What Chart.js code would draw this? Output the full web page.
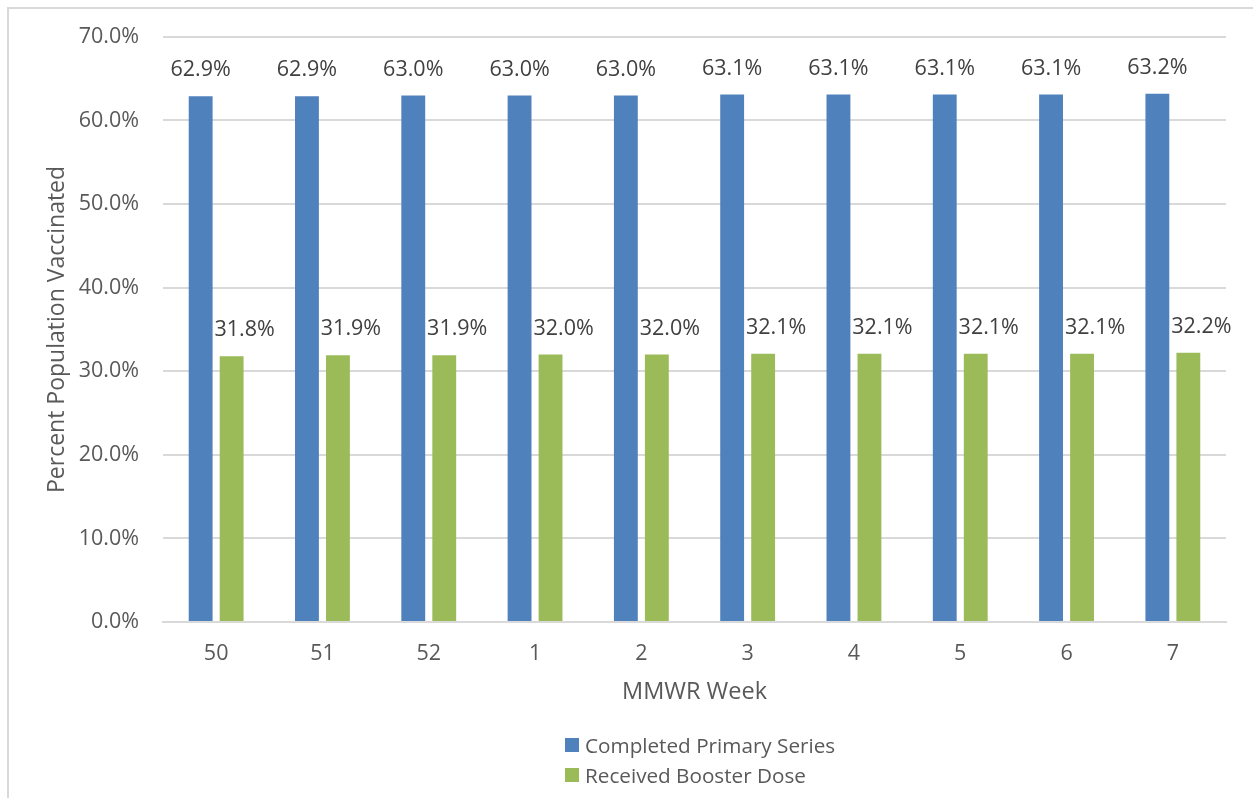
<!DOCTYPE html>
<html>
<head>
<meta charset="utf-8">
<script src="https://cdn.jsdelivr.net/npm/chart.js@4.4.1/dist/chart.umd.min.js"></script>
<style>
  html, body { margin: 0; padding: 0; background: #fff; }
  body { width: 1253px; height: 798px; position: relative; overflow: hidden; }
  .frame { position: absolute; left: 7px; top: 7px; width: 1300px; height: 900px;
           border-left: 2px solid #d9d9d9; border-top: 2px solid #d9d9d9; box-sizing: border-box; }
  .wrap { position: absolute; left: 0; top: 0; width: 1253px; height: 798px; }
  #legend { position: absolute; left: 565px; top: 730px; font-family: "Open Sans", sans-serif;
            font-size: 20.7px; color: #595959; }
  #legend div { display: flex; align-items: center; height: 30px; }
  #legend span.box { width: 14px; height: 14px; margin-right: 6px; display: inline-block; }
</style>
</head>
<body>
<div class="frame"></div>
<div class="wrap"><canvas id="c" width="1253" height="798"></canvas></div>
<div id="legend"></div>
<script>
// MMWR weeks and vaccination %
const weeks = ["50", "51", "52", "1", "2", "3", "4", "5", "6", "7"];
const primarySeries = [62.9, 62.9, 63.0, 63.0, 63.0, 63.1, 63.1, 63.1, 63.1, 63.2];
const boosterDose = [31.8, 31.9, 31.9, 32.0, 32.0, 32.1, 32.1, 32.1, 32.1, 32.2];
const seriesNames = ["Completed Primary Series", "Received Booster Dose"];
const seriesColors = ["#4f81bd", "#9bbb59"];

const FONT = "'Open Sans', sans-serif";
const TXT = "#595959";

// label di atas bar
const barLabelPlugin = {
  id: "barLabels",
  afterDatasetsDraw(chart) {
    const ctx = chart.ctx;
    ctx.save();
    ctx.font = "21.5px " + FONT;
    ctx.fillStyle = "#404040";
    ctx.textAlign = "center";
    ctx.textBaseline = "middle";
    chart.data.datasets.forEach((ds, di) => {
      const meta = chart.getDatasetMeta(di);
      const shift = di === 1 ? 13 : 0;
      meta.data.forEach((bar, i) => {
        ctx.fillText(ds.data[i].toFixed(1) + "%", bar.x + shift, bar.y - 26);
      });
    });
    ctx.restore();
  }
};

const chart = new Chart(document.getElementById("c"), {
  type: "bar",
  data: {
    labels: weeks,
    datasets: [
      { label: seriesNames[0], data: primarySeries, backgroundColor: seriesColors[0] },
      { label: seriesNames[1], data: boosterDose, backgroundColor: seriesColors[1] }
    ]
  },
  options: {
    responsive: false,
    animation: false,
    categoryPercentage: 0.583,
    barPercentage: 0.77,
    layout: { padding: { left: 0, top: 36, right: 27, bottom: 92 } },
    plugins: {
      legend: { display: false },
      tooltip: { enabled: false }
    },
    scales: {
      y: {
        min: 0, max: 70,
        ticks: {
          stepSize: 10, padding: 24, color: TXT,
          font: { family: FONT, size: 21.5 },
          callback: v => v.toFixed(1) + "%"
        },
        grid: { color: "#d9d9d9", lineWidth: 2, drawTicks: false },
        border: { display: false },
        title: {
          display: true, text: "Percent Population Vaccinated", color: TXT,
          font: { family: FONT, size: 23 }, padding: { top: 44, bottom: 0 }
        },
        afterFit: s => { s.width = 163; }
      },
      x: {
        ticks: { padding: 19, color: TXT, font: { family: FONT, size: 21.5 } },
        grid: { display: false, drawTicks: false },
        border: { color: "#d9d9d9", width: 2 },
        title: {
          display: true, text: "MMWR Week", color: TXT,
          font: { family: FONT, size: 23.5 }, padding: { top: 0, bottom: 0 }
        },
        afterFit: s => { s.height = 84; }
      }
    }
  },
  plugins: [barLabelPlugin]
});

// legend vertikal
const legendEl = document.getElementById("legend");
chart.data.datasets.forEach(ds => {
  const row = document.createElement("div");
  const box = document.createElement("span");
  box.className = "box";
  box.style.background = ds.backgroundColor;
  row.appendChild(box);
  row.appendChild(document.createTextNode(ds.label));
  legendEl.appendChild(row);
});
</script>
</body>
</html>
